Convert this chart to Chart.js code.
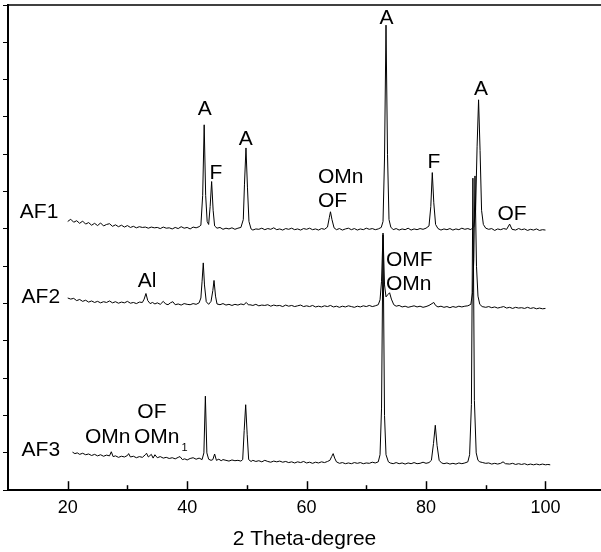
<!DOCTYPE html>
<html>
<head>
  <meta charset="UTF-8">
  <title>XRD AF1 AF2 AF3</title>
  <script src="https://cdn.jsdelivr.net/npm/chart.js"></script>
  <style>
    html, body { margin: 0; padding: 0; background: #fff; }
    #wrap { width: 601px; height: 552px; position: relative; }
  </style>
</head>
<body>
<div id="wrap"><canvas id="xrd"></canvas></div>
<script>
// 2-theta / intensity pairs (intensity in arbitrary offset units)
const af1 = [
  [20.0,7.20],[20.5,7.26],[21.0,7.18],[21.5,7.22],[22.0,7.15],[22.5,7.21],[23.0,7.13],[23.5,7.17],
  [24.0,7.10],[24.5,7.15],[25.0,7.09],[25.5,7.16],[26.0,7.08],[26.5,7.12],[27.0,7.14],[27.5,7.07],
  [28.0,7.11],[28.5,7.06],[29.0,7.10],[29.5,7.05],[30.0,7.09],[30.5,7.04],[31.0,7.07],[31.5,7.03],
  [32.0,7.06],[32.5,7.04],[33.0,7.05],[33.5,7.02],[34.0,7.05],[34.5,7.03],[35.0,7.04],[35.5,7.01],
  [36.0,7.05],[36.5,7.02],[37.0,7.03],[37.5,7.00],[38.0,7.04],[38.5,7.01],[39.0,7.06],[39.5,7.02],
  [40.0,7.04],[40.5,7.00],[41.0,7.05],[41.5,7.03],[42.0,7.06],[42.3,7.10],[42.6,7.90],[42.85,9.79],
  [43.1,7.90],[43.35,7.20],[43.6,7.12],[43.85,7.60],[44.1,8.27],[44.35,7.50],[44.6,7.08],[45.0,7.02],
  [45.5,7.04],[46.0,6.99],[46.5,7.02],[47.0,7.00],[47.5,7.03],[48.0,6.99],[48.5,7.02],[49.0,7.04],
  [49.4,7.25],[49.6,8.20],[49.85,9.17],[50.1,8.10],[50.35,7.20],[50.7,7.00],[51.0,6.97],[51.5,7.00],
  [52.0,6.99],[52.5,7.02],[53.0,6.98],[53.5,7.01],[54.0,6.99],[54.5,7.03],[55.0,6.98],[55.5,7.00],
  [56.0,6.97],[56.5,7.01],[57.0,6.99],[57.5,7.02],[58.0,6.98],[58.5,7.00],[59.0,6.97],[59.5,7.01],
  [60.0,6.99],[60.5,7.02],[61.0,6.98],[61.5,7.00],[62.0,6.97],[62.5,7.01],[63.0,6.99],[63.5,7.05],
  [63.8,7.30],[64.0,7.46],[64.25,7.25],[64.6,7.03],[65.0,6.98],[65.5,7.01],[66.0,6.97],[66.5,7.00],
  [67.0,7.02],[67.5,6.98],[68.0,7.01],[68.5,6.97],[69.0,7.00],[69.5,6.98],[70.0,7.02],[70.5,6.99],
  [71.0,7.01],[71.5,6.98],[72.0,7.00],[72.5,7.04],[72.8,7.20],[73.05,8.90],[73.3,12.46],[73.55,9.00],
  [73.8,7.25],[74.1,7.05],[74.5,6.98],[75.0,7.01],[75.5,6.97],[76.0,7.00],[76.5,6.98],[77.0,7.02],
  [77.5,6.97],[78.0,7.00],[78.5,6.98],[79.0,7.01],[79.5,6.99],[80.0,7.02],[80.5,7.08],[80.8,7.60],
  [81.05,8.51],[81.3,7.70],[81.6,7.12],[82.0,7.01],[82.5,6.97],[83.0,7.00],[83.5,6.98],[84.0,7.01],
  [84.5,6.97],[85.0,7.00],[85.5,6.98],[86.0,7.02],[86.5,6.99],[87.0,7.01],[87.5,6.98],[88.0,7.06],
  [88.3,7.50],[88.55,9.20],[88.8,10.46],[89.05,9.10],[89.3,7.50],[89.6,7.12],[90.0,7.02],[90.5,6.99],
  [91.0,7.01],[91.5,6.96],[92.0,7.00],[92.5,6.98],[93.0,7.01],[93.5,6.99],[94.0,7.13],[94.4,6.99],
  [95.0,6.97],[95.5,7.01],[96.0,6.98],[96.5,7.00],[97.0,6.96],[97.5,6.99],[98.0,6.97],[98.5,7.00],
  [99.0,6.96],[99.5,6.98],[100.0,6.97]
];

const af2 = [
  [20.0,5.15],[20.5,5.12],[21.0,5.14],[21.5,5.08],[22.0,5.11],[22.5,5.06],[23.0,5.09],[23.5,5.04],
  [24.0,5.07],[24.5,5.03],[25.0,5.06],[25.5,5.02],[26.0,5.05],[26.5,5.03],[27.0,5.07],[27.5,5.02],
  [28.0,5.05],[28.5,5.01],[29.0,5.04],[29.5,5.02],[30.0,5.06],[30.5,5.01],[31.0,5.03],[31.5,5.00],
  [32.0,5.04],[32.5,5.03],[32.8,5.12],[33.1,5.27],[33.4,5.08],[33.8,5.00],[34.2,5.03],[34.6,4.99],
  [35.0,5.02],[35.5,4.98],[36.0,5.06],[36.4,4.99],[36.8,4.97],[37.2,5.02],[37.6,5.05],[38.0,4.97],
  [38.5,4.99],[39.0,4.96],[39.5,5.00],[40.0,4.98],[40.5,4.97],[41.0,5.00],[41.5,4.98],[42.0,5.02],
  [42.3,5.15],[42.5,5.60],[42.7,6.09],[42.9,5.50],[43.2,5.05],[43.6,4.98],[44.0,5.06],[44.3,5.35],
  [44.5,5.62],[44.75,5.20],[45.0,4.99],[45.5,4.97],[46.0,5.00],[46.5,4.96],[47.0,4.98],[47.5,4.95],
  [48.0,4.98],[48.5,4.96],[49.0,4.99],[49.5,4.97],[49.9,5.03],[50.3,4.96],[50.5,4.97],[51.0,4.95],
  [51.5,4.98],[52.0,4.94],[52.5,4.96],[53.0,4.95],[53.5,4.97],[54.0,4.93],[54.5,4.96],[55.0,4.94],
  [55.5,4.95],[56.0,4.92],[56.5,4.96],[57.0,4.93],[57.5,4.95],[58.0,4.92],[58.5,4.94],[59.0,4.96],
  [59.5,4.92],[60.0,4.94],[60.5,4.92],[61.0,4.95],[61.5,4.91],[62.0,4.93],[62.5,4.91],[63.0,4.94],
  [63.5,4.92],[64.0,4.95],[64.5,4.91],[65.0,4.93],[65.5,4.90],[66.0,4.93],[66.5,4.91],[67.0,4.94],
  [67.5,4.92],[68.0,4.90],[68.5,4.93],[69.0,4.91],[69.5,4.94],[70.0,4.92],[70.5,4.95],[71.0,4.92],
  [71.5,4.94],[72.0,4.97],[72.3,5.10],[72.55,5.60],[72.8,6.89],[73.05,5.50],[73.3,5.18],[73.6,5.24],
  [73.9,5.29],[74.2,5.12],[74.6,4.97],[75.0,4.93],[75.5,4.95],[76.0,4.91],[76.5,4.93],[77.0,4.90],
  [77.5,4.92],[78.0,4.94],[78.5,4.91],[79.0,4.93],[79.5,4.90],[80.0,4.92],[80.5,4.95],[81.0,5.00],
  [81.3,5.03],[81.6,4.95],[82.0,4.91],[82.5,4.93],[83.0,4.90],[83.5,4.92],[84.0,4.89],[84.5,4.92],
  [85.0,4.90],[85.5,4.93],[86.0,4.91],[86.5,4.93],[87.0,4.94],[87.5,4.98],[87.8,5.30],[88.0,6.20],
  [88.2,8.42],[88.45,6.00],[88.7,5.20],[89.0,4.98],[89.4,4.92],[90.0,4.90],[90.5,4.92],[91.0,4.89],
  [91.5,4.91],[92.0,4.88],[92.5,4.90],[93.0,4.92],[93.5,4.88],[94.0,4.90],[94.5,4.87],[95.0,4.90],
  [95.5,4.88],[96.0,4.89],[96.5,4.87],[97.0,4.90],[97.5,4.87],[98.0,4.89],[98.5,4.86],[99.0,4.88],
  [99.5,4.86],[100.0,4.87]
];

const af3 = [
  [20.8,1.02],[21.2,0.98],[21.6,1.00],[22.0,0.96],[22.5,0.99],[23.0,0.95],[23.5,0.97],[24.0,0.93],
  [24.5,0.96],[25.0,0.92],[25.5,0.95],[26.0,0.91],[26.5,0.94],[27.0,0.92],[27.3,1.03],[27.6,0.90],
  [28.0,0.92],[28.5,0.88],[29.0,0.91],[29.5,0.89],[30.0,0.93],[30.2,0.98],[30.5,0.89],[31.0,0.91],
  [31.5,0.87],[32.0,0.90],[32.5,0.88],[33.0,0.95],[33.2,0.99],[33.5,0.89],[34.0,0.96],[34.3,0.86],
  [34.6,0.95],[35.0,0.87],[35.5,0.90],[36.0,0.86],[36.5,0.88],[37.0,0.85],[37.5,0.87],[38.0,0.84],
  [38.5,0.88],[38.8,0.90],[39.2,0.82],[39.6,0.84],[40.0,0.81],[40.5,0.85],[41.0,0.87],[41.5,0.83],
  [42.0,0.86],[42.5,0.82],[42.8,1.00],[43.05,2.52],[43.3,1.00],[43.6,0.83],[44.0,0.80],[44.3,0.82],
  [44.6,0.97],[44.9,0.80],[45.3,0.83],[45.7,0.79],[46.0,0.82],[46.5,0.80],[47.0,0.78],[47.5,0.81],
  [48.0,0.79],[48.5,0.80],[49.0,0.78],[49.3,0.82],[49.55,1.60],[49.8,2.29],[50.05,1.50],[50.3,0.82],
  [50.7,0.77],[51.0,0.80],[51.5,0.77],[52.0,0.79],[52.5,0.76],[53.0,0.80],[53.5,0.77],[54.0,0.75],
  [54.5,0.78],[55.0,0.76],[55.5,0.78],[56.0,0.75],[56.5,0.77],[57.0,0.74],[57.5,0.76],[58.0,0.73],
  [58.5,0.76],[59.0,0.74],[59.5,0.77],[60.0,0.73],[60.5,0.75],[61.0,0.72],[61.5,0.75],[62.0,0.73],
  [62.5,0.76],[63.0,0.74],[63.5,0.77],[63.9,0.80],[64.2,0.90],[64.45,0.98],[64.7,0.86],[65.0,0.76],
  [65.5,0.72],[66.0,0.74],[66.5,0.71],[67.0,0.73],[67.5,0.71],[68.0,0.74],[68.5,0.72],[69.0,0.74],
  [69.5,0.71],[70.0,0.73],[70.5,0.72],[71.0,0.75],[71.5,0.73],[72.0,0.76],[72.3,0.95],[72.55,2.20],
  [72.8,6.84],[73.05,2.00],[73.3,0.95],[73.7,0.76],[74.0,0.73],[74.5,0.71],[75.0,0.74],[75.5,0.71],
  [76.0,0.73],[76.5,0.70],[77.0,0.73],[77.5,0.71],[78.0,0.74],[78.5,0.71],[79.0,0.72],[79.5,0.75],
  [80.0,0.72],[80.5,0.74],[80.9,0.80],[81.25,1.25],[81.55,1.74],[81.85,1.20],[82.2,0.80],[82.6,0.73],
  [83.0,0.71],[83.5,0.73],[84.0,0.70],[84.5,0.72],[85.0,0.70],[85.5,0.73],[86.0,0.71],[86.5,0.73],
  [87.0,0.76],[87.3,0.95],[87.6,2.30],[87.85,8.36],[88.1,2.40],[88.4,1.00],[88.7,0.80],[89.0,0.76],
  [89.5,0.74],[90.0,0.72],[90.5,0.73],[91.0,0.70],[91.5,0.72],[92.0,0.70],[92.5,0.72],[92.9,0.76],
  [93.3,0.71],[94.0,0.70],[94.5,0.72],[95.0,0.69],[95.5,0.71],[96.0,0.69],[96.5,0.71],[97.0,0.68],
  [97.5,0.70],[98.0,0.68],[98.5,0.70],[99.0,0.68],[99.5,0.70],[100.0,0.68],[100.4,0.69],[100.8,0.68]
];

const xTicks = [20, 40, 60, 80, 100];
const xMinor = [30, 50, 70, 90];

// peak / sample labels, placed in data coordinates (x = 2theta, y = baseline of text)
const notes = [
  { t: 'AF1', x: 15.2, y: 7.30, a: 'center' },
  { t: 'AF2', x: 15.5, y: 5.02, a: 'center' },
  { t: 'AF3', x: 15.5, y: 0.91, a: 'center' },
  { t: 'A', x: 42.95, y: 10.06, a: 'center' },
  { t: 'F', x: 44.8, y: 8.34, a: 'center' },
  { t: 'A', x: 49.8, y: 9.24, a: 'center' },
  { t: 'OMn', x: 61.9, y: 8.24, a: 'left' },
  { t: 'OF', x: 61.9, y: 7.60, a: 'left' },
  { t: 'A', x: 73.4, y: 12.49, a: 'center' },
  { t: 'F', x: 81.3, y: 8.63, a: 'center' },
  { t: 'A', x: 89.2, y: 10.59, a: 'center' },
  { t: 'OF', x: 94.4, y: 7.25, a: 'center' },
  { t: 'Al', x: 33.3, y: 5.44, a: 'center' },
  { t: 'OMF', x: 73.3, y: 6.00, a: 'left' },
  { t: 'OMn', x: 73.3, y: 5.37, a: 'left' },
  { t: 'OF', x: 34.1, y: 1.94, a: 'center' },
  { t: 'OMn', x: 26.7, y: 1.27, a: 'center' },
  { t: 'OMn', x: 31.1, y: 1.27, a: 'left', sub: '1' }
];

const FONT = '"Liberation Sans", Arial, sans-serif';

const asXY = arr => arr.map(p => ({ x: p[0], y: p[1] }));

function traceSet(arr) {
  return {
    data: asXY(arr),
    borderColor: '#000',
    borderWidth: 1,
    pointRadius: 0,
    tension: 0,
    fill: false
  };
}

// frame top line, inward x ticks, text labels
const decorate = {
  id: 'decorate',
  afterDraw(chart) {
    const { ctx, chartArea, scales } = chart;
    const sx = scales.x, sy = scales.y;
    ctx.save();
    ctx.strokeStyle = '#000';
    ctx.lineWidth = 1.5;
    ctx.beginPath();
    ctx.moveTo(chartArea.left, chartArea.top);
    ctx.lineTo(chartArea.right, chartArea.top);
    ctx.stroke();

    const yb = chartArea.bottom;
    xTicks.forEach(v => {
      const px = Math.round(sx.getPixelForValue(v)) + 0.5;
      ctx.beginPath(); ctx.moveTo(px, yb); ctx.lineTo(px, yb - 9); ctx.stroke();
    });
    xMinor.forEach(v => {
      const px = Math.round(sx.getPixelForValue(v)) + 0.5;
      ctx.beginPath(); ctx.moveTo(px, yb); ctx.lineTo(px, yb - 5); ctx.stroke();
    });

    ctx.fillStyle = '#000';
    ctx.textBaseline = 'alphabetic';
    notes.forEach(n => {
      ctx.font = '21px ' + FONT;
      ctx.textAlign = n.a;
      const px = sx.getPixelForValue(n.x);
      const py = sy.getPixelForValue(n.y);
      ctx.fillText(n.t, px, py);
      if (n.sub) {
        const w = ctx.measureText(n.t).width;
        ctx.font = '11px ' + FONT;
        ctx.textAlign = 'left';
        ctx.fillText(n.sub, px + w + 2, py + 8);
      }
    });
    ctx.restore();
  }
};

new Chart(document.getElementById('xrd'), {
  type: 'line',
  data: {
    datasets: [traceSet(af1), traceSet(af2), traceSet(af3)]
  },
  options: {
    responsive: true,
    maintainAspectRatio: false,
    animation: false,
    layout: { padding: { left: 3, top: 5, right: 0, bottom: 0 } },
    plugins: {
      legend: { display: false },
      tooltip: { enabled: false },
      title: { display: false }
    },
    scales: {
      x: {
        type: 'linear',
        min: 10,
        max: 109.3,
        afterBuildTicks: s => { s.ticks = xTicks.map(v => ({ value: v })); },
        grid: { display: false, drawTicks: false },
        border: { display: true, color: '#000', width: 2 },
        ticks: {
          color: '#000',
          padding: 7.5,
          maxRotation: 0,
          font: { family: FONT, size: 18 }
        },
        title: {
          display: true,
          text: '2 Theta-degree',
          color: '#000',
          padding: { top: 0, bottom: 0 },
          font: { family: FONT, size: 21 }
        }
      },
      y: {
        min: 0,
        max: 13,
        ticks: { display: false, stepSize: 1 },
        grid: { drawOnChartArea: false, drawTicks: true, tickLength: 5, tickColor: '#000', tickWidth: 1 },
        border: { display: true, color: '#000', width: 2 }
      }
    }
  },
  plugins: [decorate]
});
</script>
</body>
</html>
